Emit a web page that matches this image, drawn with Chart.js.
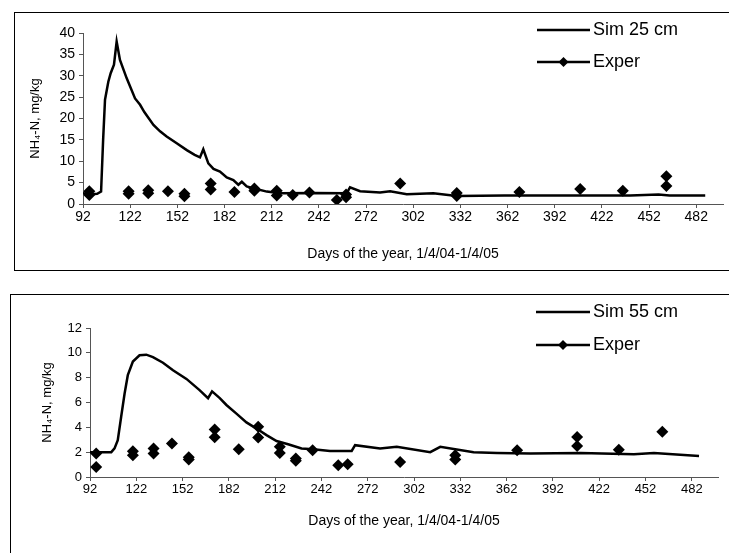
<!DOCTYPE html>
<html>
<head>
<meta charset="utf-8">
<title>NH4-N simulated vs experimental</title>
<script src="https://cdn.jsdelivr.net/npm/chart.js@4.4.0/dist/chart.umd.min.js"></script>
<style>
  body { margin: 0; background: #fff; width: 729px; height: 553px; overflow: hidden; position: relative; }
  .box { position: absolute; border: 1px solid #000; box-sizing: border-box; }
  canvas { position: absolute; }
</style>
</head>
<body>
<div class="box" style="left:14px;top:12px;width:730px;height:259px"></div>
<canvas id="chart25" width="715" height="258" style="left:14px;top:12px"></canvas>
<div class="box" style="left:10px;top:294px;width:735px;height:280px"></div>
<canvas id="chart55" width="719" height="259" style="left:10px;top:294px"></canvas>
<script>
// x axis (both panels)
const xTicks = [92, 122, 152, 182, 212, 242, 272, 302, 332, 362, 392, 422, 452, 482];
const xTitle = 'Days of the year, 1/4/04-1/4/05';
const yTitle = 'NH\u2084-N, mg/kg';

// 25 cm panel
const yTicks25 = [0, 5, 10, 15, 20, 25, 30, 35, 40];
const simDays25 = [92, 97, 101, 103.5, 104.8, 106, 108.1, 109.6, 111.7, 113.4, 115.5, 119.8, 125.1, 128.3, 131, 136.8, 141, 145.2, 151.6, 158, 163, 166.4, 168.5, 171.7, 175, 179.1, 183.4, 187.6, 190.8, 193, 196.1, 200.3, 208.9, 217.3, 238.5, 259.7, 261.8, 268.2, 280.9, 287.3, 297.9, 314.8, 329.7, 360, 400, 440, 458, 465, 487.7];
const simVals25 = [2.5, 2.3, 2.4, 2.9, 15, 24.4, 28.6, 30.6, 32.6, 38, 33.7, 29.4, 24.7, 23.2, 21.5, 18.5, 17.0, 15.8, 14.2, 12.6, 11.5, 10.9, 12.8, 9.5, 8.2, 7.6, 6.2, 5.6, 4.5, 5.2, 4.1, 3.7, 2.9, 2.5, 2.6, 2.5, 3.9, 3.0, 2.7, 3.0, 2.3, 2.5, 1.9, 2.0, 2.0, 2.0, 2.2, 2.0, 2.0];
const expDays25 = [96, 96, 121, 121, 133.5, 133.5, 146, 156.5, 156.5, 173.2, 173.2, 188.3, 201, 201, 215.2, 215.2, 225.4, 236, 253.4, 259.3, 259.3, 293.7, 329.7, 329.7, 369.5, 408.2, 435.3, 463, 463];
const expVals25 = [2.1, 3.0, 2.4, 3.0, 2.5, 3.2, 3.0, 1.8, 2.4, 4.8, 3.4, 2.8, 3.1, 3.6, 2.0, 3.1, 2.1, 2.7, 0.95, 1.6, 2.2, 4.8, 2.6, 1.9, 2.8, 3.5, 3.1, 6.5, 4.2];

// 55 cm panel
const yTicks55 = [0, 2, 4, 6, 8, 10, 12];
const simDays55 = [92, 105.8, 107.9, 110, 112.2, 114.4, 116.5, 119.8, 124.1, 128.5, 132.8, 139.3, 145.8, 154.5, 163, 168.5, 171.1, 176.1, 180.4, 186.9, 193.4, 199.9, 206.4, 212.9, 220.4, 229.1, 236.7, 247.5, 261.6, 263.8, 280, 290.8, 312.5, 319, 340.6, 355.8, 377.4, 409.9, 444.5, 457.5, 486.7];
const simVals55 = [2.0, 2.0, 2.3, 2.97, 4.85, 6.7, 8.2, 9.3, 9.8, 9.85, 9.65, 9.2, 8.6, 7.9, 7.0, 6.35, 6.9, 6.35, 5.8, 5.1, 4.4, 3.9, 3.37, 2.9, 2.64, 2.3, 2.24, 2.1, 2.1, 2.56, 2.3, 2.43, 2.0, 2.43, 2.0, 1.94, 1.89, 1.94, 1.83, 1.94, 1.7];
const expDays55 = [96, 96, 119.8, 119.8, 133.2, 133.2, 145.1, 156, 156, 172.8, 172.8, 188.4, 201, 201, 215, 215, 225.4, 225.4, 236.3, 252.9, 259, 293, 328.7, 328.7, 368.8, 407.7, 407.7, 434.7, 462.9];
const expVals55 = [1.9, 0.8, 2.08, 1.75, 2.3, 1.9, 2.7, 1.6, 1.4, 3.83, 3.2, 2.24, 4.04, 3.18, 2.43, 1.94, 1.49, 1.3, 2.16, 0.95, 1.03, 1.2, 1.75, 1.4, 2.16, 3.23, 2.5, 2.2, 3.64];

Chart.defaults.font.family = '"Liberation Sans", Arial, sans-serif';
Chart.defaults.color = '#000';

function pairs(xs, ys) {
    return xs.map((x, i) => ({ x: x, y: ys[i] }));
}

// legend drawn inside the plot, Excel style (line + marker for Exper)
const boxLegend = {
    id: 'boxLegend',
    afterDraw(chart, args, opts) {
        const ctx = chart.ctx;
        ctx.save();
        chart.data.datasets.forEach((ds, i) => {
            const y = opts.y + i * opts.gap;
            ctx.strokeStyle = '#000';
            ctx.lineWidth = 2.5;
            ctx.beginPath();
            ctx.moveTo(opts.x1, y);
            ctx.lineTo(opts.x2, y);
            ctx.stroke();
            if (ds.pointStyle === 'rectRot') {
                const cx = (opts.x1 + opts.x2) / 2, r = 5;
                ctx.fillStyle = '#000';
                ctx.beginPath();
                ctx.moveTo(cx, y - r);
                ctx.lineTo(cx + r, y);
                ctx.lineTo(cx, y + r);
                ctx.lineTo(cx - r, y);
                ctx.closePath();
                ctx.fill();
            }
            ctx.fillStyle = '#000';
            ctx.font = opts.fontSize + 'px "Liberation Sans", Arial, sans-serif';
            ctx.textBaseline = 'middle';
            ctx.textAlign = 'left';
            ctx.fillText(ds.label, opts.x2 + 3, y);
        });
        ctx.restore();
    }
};

function makeChart(id, cfg) {
    new Chart(document.getElementById(id), {
        type: 'scatter',
        data: {
            datasets: [{
                label: cfg.simLabel,
                data: pairs(cfg.simDays, cfg.simVals),
                showLine: true,
                borderColor: '#000',
                borderWidth: 2.5,
                pointRadius: 0,
                tension: 0
            }, {
                label: 'Exper',
                data: pairs(cfg.expDays, cfg.expVals),
                showLine: false,
                pointStyle: 'rectRot',
                pointRadius: 6,
                backgroundColor: '#000',
                borderColor: '#000',
                borderWidth: 0
            }]
        },
        options: {
            responsive: false,
            animation: false,
            events: [],
            layout: { padding: cfg.padding },
            plugins: {
                legend: { display: false },
                tooltip: { enabled: false },
                boxLegend: cfg.legend
            },
            scales: {
                x: {
                    type: 'linear',
                    min: 92,
                    max: 499,
                    afterBuildTicks: s => { s.ticks = xTicks.map(v => ({ value: v })); },
                    afterFit: s => { s.height = cfg.xHeight; },
                    grid: { drawOnChartArea: false, tickLength: 4, color: '#555' },
                    border: { color: '#555', width: 1 },
                    ticks: { font: { size: cfg.tickSize }, padding: 1, maxRotation: 0, autoSkip: false },
                    title: { display: true, text: xTitle, font: { size: 14 }, padding: { top: 0, bottom: cfg.xTitlePad } }
                },
                y: {
                    min: 0,
                    max: cfg.yMax,
                    afterBuildTicks: s => { s.ticks = cfg.yTicks.map(v => ({ value: v })); },
                    afterFit: s => { s.width = cfg.yWidth; },
                    grid: { drawOnChartArea: false, tickLength: 4, color: '#555' },
                    border: { color: '#555', width: 1 },
                    ticks: { font: { size: cfg.tickSize }, padding: 4 },
                    title: { display: true, text: yTitle, font: { size: 13 }, padding: { top: cfg.yTitlePad, bottom: 0 } }
                }
            }
        },
        plugins: [boxLegend]
    });
}

makeChart('chart25', {
    simLabel: 'Sim 25 cm',
    simDays: simDays25, simVals: simVals25,
    expDays: expDays25, expVals: expVals25,
    yMax: 40, yTicks: yTicks25,
    padding: { top: 21, right: 6, left: 0, bottom: 0 },
    xHeight: 66, yWidth: 69, tickSize: 14,
    xTitlePad: 7, yTitlePad: 14,
    legend: { x1: 523, x2: 576, y: 18, gap: 32, fontSize: 18 }
});

makeChart('chart55', {
    simLabel: 'Sim 55 cm',
    simDays: simDays55, simVals: simVals55,
    expDays: expDays55, expVals: expVals55,
    yMax: 12, yTicks: yTicks55,
    padding: { top: 34, right: 11, left: 0, bottom: 0 },
    xHeight: 76, yWidth: 80, tickSize: 13,
    xTitlePad: 23, yTitlePad: 30,
    legend: { x1: 526, x2: 580, y: 18, gap: 33, fontSize: 18 }
});
</script>
</body>
</html>
